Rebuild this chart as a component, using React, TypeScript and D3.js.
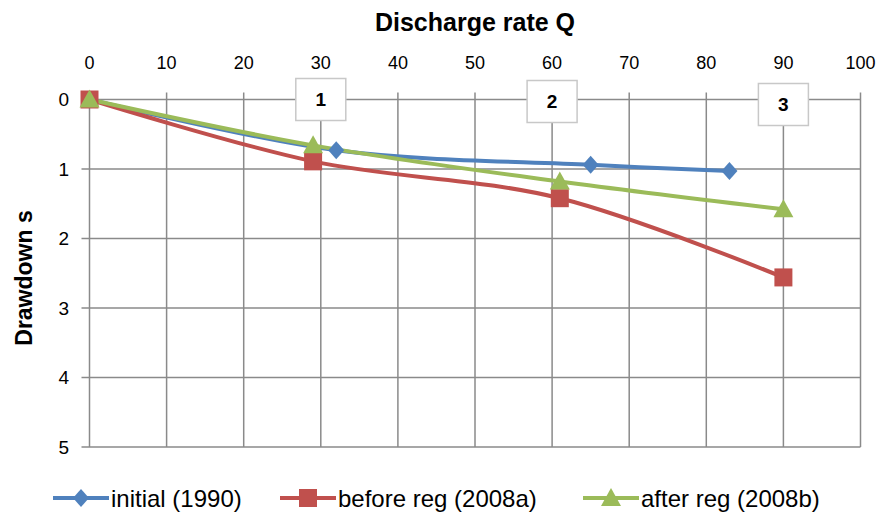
import React from "react";
import * as d3 from "d3";

const discharge = [0, 10, 20, 30, 40, 50, 60, 70, 80, 90, 100];
const drawdownTicks = [0, 1, 2, 3, 4, 5];

const initialQ = [0, 32, 65, 83];
const initialS = [0, 0.73, 0.94, 1.03];
const beforeQ = [0, 29, 61, 90];
const beforeS = [0, 0.89, 1.42, 2.56];
const afterQ = [0, 29, 61, 90];
const afterS = [0, 0.66, 1.18, 1.58];

const seriesNames = ["initial (1990)", "before reg (2008a)", "after reg (2008b)"];
const seriesColors = ["#4F81BD", "#C0504D", "#9BBB59"];
const markerKinds = ["diamond", "square", "triangle"];

const labelTexts = ["1", "2", "3"];
const labelQ = [30, 60, 90];

const W = 880;
const H = 512;
const FONT = "'Liberation Sans', Arial, sans-serif";

export default function App() {
  const x = d3.scaleLinear().domain([0, 100]).range([89.5, 860.5]);
  const y = d3.scaleLinear().domain([0, 5]).range([99.5, 447]);

  const series = [
    { q: initialQ, s: initialS },
    { q: beforeQ, s: beforeS },
    { q: afterQ, s: afterS },
  ];

  const line = d3
    .line<[number, number]>()
    .x((d) => x(d[0]))
    .y((d) => y(d[1]))
    .curve(d3.curveCatmullRom.alpha(0.5));

  const marker = (kind: string, cx: number, cy: number, color: string, key: string) => {
    if (kind === "square") {
      return <rect key={key} x={cx - 9} y={cy - 9} width={18} height={18} fill={color} />;
    }
    if (kind === "diamond") {
      return (
        <path
          key={key}
          d={`M${cx},${cy - 9} L${cx + 8},${cy} L${cx},${cy + 9} L${cx - 8},${cy} Z`}
          fill={color}
        />
      );
    }
    return (
      <path
        key={key}
        d={`M${cx},${cy - 10} L${cx + 10},${cy + 8} L${cx - 10},${cy + 8} Z`}
        fill={color}
      />
    );
  };

  const labelYOffsets = [0, 2, 5];
  const legendX = [53, 280, 583];

  return (
    <svg width={W} height={H} style={{ position: "absolute", left: 0, top: 0, background: "#fff" }}>
      <rect x={0} y={0} width={W} height={H} fill="#fff" />
      {discharge.map((d) => (
        <line
          key={"v" + d}
          x1={x(d)}
          x2={x(d)}
          y1={d === 0 ? y(0) : y(0) - 7}
          y2={y(5)}
          stroke="#8a8a8a"
          strokeWidth={1.5}
        />
      ))}
      {drawdownTicks.map((t) => (
        <line
          key={"h" + t}
          x1={t === 0 ? x(0) : x(0) - 8}
          x2={x(100)}
          y1={y(t)}
          y2={y(t)}
          stroke="#8a8a8a"
          strokeWidth={1.5}
        />
      ))}
      {discharge.map((d) => (
        <text
          key={"xt" + d}
          x={x(d)}
          y={63}
          textAnchor="middle"
          dominantBaseline="central"
          fontFamily={FONT}
          fontSize={18}
          fill="#000"
        >
          {d}
        </text>
      ))}
      {drawdownTicks.map((t) => (
        <text
          key={"yt" + t}
          x={69}
          y={y(t)}
          textAnchor="end"
          dominantBaseline="central"
          fontFamily={FONT}
          fontSize={19}
          fill="#000"
        >
          {t}
        </text>
      ))}
      <text
        x={475}
        y={22}
        textAnchor="middle"
        dominantBaseline="central"
        fontFamily={FONT}
        fontSize={25}
        fontWeight="bold"
        fill="#000"
      >
        Discharge rate Q
      </text>
      <text
        transform={`translate(24,278) rotate(-90)`}
        textAnchor="middle"
        dominantBaseline="central"
        fontFamily={FONT}
        fontSize={23}
        fontWeight="bold"
        fill="#000"
      >
        Drawdown s
      </text>
      {series.map((s, i) => {
        const pts = s.q.map((q, j) => [q, s.s[j]] as [number, number]);
        return (
          <path key={"s" + i} d={line(pts) || ""} fill="none" stroke={seriesColors[i]} strokeWidth={4} />
        );
      })}
      {series.map((s, i) => (
        <g key={"m" + i}>
          {s.q.map((q, j) => marker(markerKinds[i], x(q), y(s.s[j]), seriesColors[i], `mk${i}-${j}`))}
        </g>
      ))}
      {labelTexts.map((t, i) => {
        const cx = x(labelQ[i]);
        const cy = y(0) + labelYOffsets[i];
        return (
          <g key={"lb" + i}>
            <rect x={cx - 25} y={cy - 21} width={50} height={42} fill="#fff" stroke="#c8c8c8" strokeWidth={1.5} />
            <text
              x={cx}
              y={cy}
              textAnchor="middle"
              dominantBaseline="central"
              fontFamily={FONT}
              fontSize={19}
              fontWeight="bold"
              fill="#000"
            >
              {t}
            </text>
          </g>
        );
      })}
      {seriesNames.map((n, i) => {
        const lx = legendX[i];
        const ly = 498;
        return (
          <g key={"lg" + i}>
            <line x1={lx} x2={lx + 56} y1={ly} y2={ly} stroke={seriesColors[i]} strokeWidth={4} />
            {marker(markerKinds[i], lx + 28, ly, seriesColors[i], "lgm" + i)}
            <text
              x={lx + 58}
              y={ly}
              dominantBaseline="central"
              fontFamily={FONT}
              fontSize={24}
              fill="#000"
            >
              {n}
            </text>
          </g>
        );
      })}
    </svg>
  );
}
